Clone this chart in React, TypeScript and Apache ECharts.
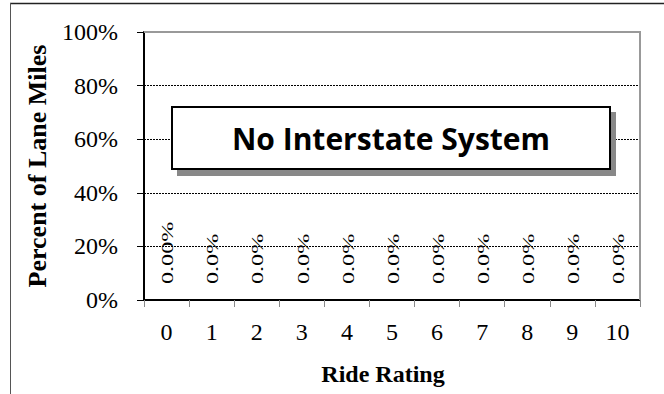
import React, { useEffect, useRef } from "react";
import * as echarts from "echarts";

const categories = ["0", "1", "2", "3", "4", "5", "6", "7", "8", "9", "10"];
const values = [0, 0, 0, 0, 0, 0, 0, 0, 0, 0, 0];
const dataLabels = ["0.00%", "0.0%", "0.0%", "0.0%", "0.0%", "0.0%", "0.0%", "0.0%", "0.0%", "0.0%", "0.0%"];
const yTicks = { min: 0, max: 100, interval: 20 };
const boxText = "No Interstate System";
const xTitle = "Ride Rating";
const yTitle = "Percent of Lane Miles";

const SERIF = "'Liberation Serif', 'Times New Roman', serif";

export default function App() {
  const ref = useRef<HTMLDivElement>(null);

  useEffect(() => {
    document.body.style.margin = "0";
    if (!ref.current) return;
    const chart = echarts.init(ref.current, null, { renderer: "svg" });
    chart.setOption({
      animation: false,
      backgroundColor: "#fff",
      grid: { left: 144, right: 24, top: 32, bottom: 94, containLabel: false },
      xAxis: {
        type: "category",
        data: categories,
        boundaryGap: true,
        name: xTitle,
        nameLocation: "middle",
        nameGap: 62,
        nameTextStyle: {
          fontFamily: SERIF,
          fontWeight: "bold",
          fontSize: 24,
          color: "#000",
          padding: [0, 18, 0, 0],
        },
        axisLine: { show: true, lineStyle: { color: "#000", width: 2 } },
        axisTick: { show: true, alignWithLabel: false, length: 7, lineStyle: { color: "#888", width: 1 } },
        axisLabel: { fontFamily: SERIF, fontSize: 24, color: "#000", margin: 20, interval: 0 },
        splitLine: { show: false },
      },
      yAxis: {
        type: "value",
        min: yTicks.min,
        max: yTicks.max,
        interval: yTicks.interval,
        name: yTitle,
        nameLocation: "middle",
        nameGap: 94,
        nameTextStyle: { fontFamily: SERIF, fontWeight: "bold", fontSize: 26, color: "#000" },
        axisLine: { show: true, lineStyle: { color: "#000", width: 2 } },
        axisTick: { show: true, length: 7, lineStyle: { color: "#000", width: 1 } },
        axisLabel: { fontFamily: SERIF, fontSize: 24, color: "#000", margin: 26, formatter: "{value}%" },
        splitLine: { show: true, lineStyle: { color: "#000", width: 1, type: [2, 1] } },
      },
      series: [
        {
          type: "bar",
          data: values,
          barWidth: "60%",
          itemStyle: { color: "#4f81bd" },
          silent: true,
        },
        {
          type: "custom",
          data: values.map((v, i) => [i, v]),
          silent: true,
          renderItem: (params: any, api: any) => {
            const i = params.dataIndex;
            const pt = api.coord([api.value(0), api.value(1)]);
            return {
              type: "text",
              x: pt[0] + 1,
              y: pt[1] - 16,
              rotation: Math.PI / 2,
              scaleX: 1.42,
              scaleY: 1,
              style: {
                text: dataLabels[i],
                fontFamily: SERIF,
                fontSize: 17,
                fill: "#000",
                align: "left",
                verticalAlign: "middle",
              },
            };
          },
        },
      ],
      graphic: [
        {
          type: "line",
          z: 20,
          shape: { x1: 10, y1: 3.5, x2: 664, y2: 3.5 },
          style: { stroke: "#222", lineWidth: 1.5 },
        },
        {
          type: "line",
          z: 20,
          shape: { x1: 10.5, y1: 3, x2: 10.5, y2: 394 },
          style: { stroke: "#555", lineWidth: 1 },
        },
        {
          type: "polyline",
          z: 20,
          shape: { points: [[144, 32], [640, 32], [640, 300]] },
          style: { stroke: "#999", lineWidth: 2, fill: null },
        },
        {
          type: "rect",
          z: 21,
          shape: { x: 177, y: 112, width: 439, height: 64 },
          style: { fill: "#888" },
        },
        {
          type: "rect",
          z: 22,
          shape: { x: 172, y: 107, width: 438, height: 62 },
          style: { fill: "#fff", stroke: "#000", lineWidth: 2 },
        },
        {
          type: "text",
          z: 23,
          x: 391,
          y: 138,
          style: {
            text: boxText,
            fontFamily: "'Open Sans', Lato, sans-serif",
            fontWeight: "bold",
            fontSize: 30,
            fill: "#000",
            align: "center",
            verticalAlign: "middle",
          },
        },
      ],
    });
    return () => chart.dispose();
  }, []);

  return <div ref={ref} style={{ width: 664, height: 394 }} />;
}
